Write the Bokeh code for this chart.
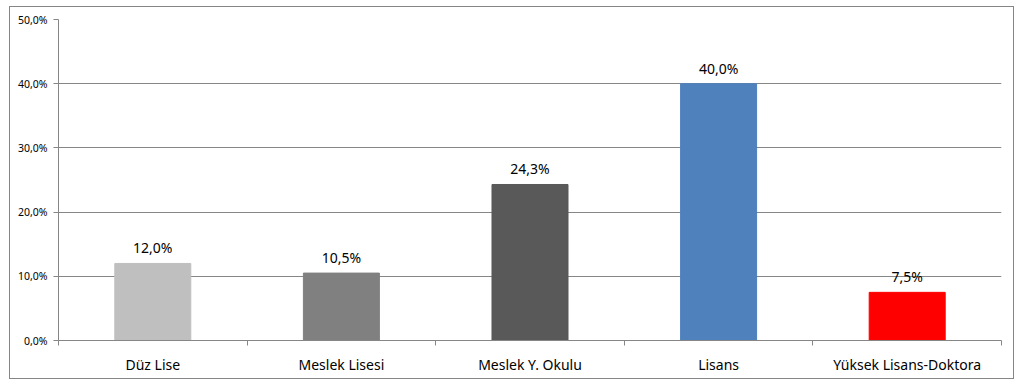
from bokeh.plotting import figure
from bokeh.models import ColumnDataSource, FixedTicker, CustomJSTickFormatter, Range1d
from bokeh.core.properties import value
from bokeh.embed import file_html
from bokeh.resources import INLINE

categories = ["Düz Lise", "Meslek Lisesi", "Meslek Y. Okulu", "Lisans", "Yüksek Lisans-Doktora"]
values = [12.0, 10.5, 24.3, 40.0, 7.5]
colors = ["#BFBFBF", "#808080", "#595959", "#4F81BD", "#FF0000"]
y_ticks = [0, 10, 20, 30, 40, 50]

FONT = "Noto Sans"
GRID = "#868686"

xs = [i + 0.5 for i in range(len(categories))]
labels = [f"{v:.1f}".replace(".", ",") + "%" for v in values]
src = ColumnDataSource(dict(x=xs, top=values, color=colors, label=labels))

p = figure(output_backend="svg", toolbar_location=None,
           x_range=Range1d(0, len(categories)), y_range=Range1d(0, 50),
           min_border_left=48, min_border_right=12, min_border_top=12, min_border_bottom=38)
p.frame_width = 943
p.frame_height = 321
p.outline_line_color = None
p.styles = {"border": "1px solid #868686", "margin-left": "9px", "margin-top": "6px"}

p.vbar(x="x", top="top", width=0.403, color="color", source=src)
p.text(x="x", y="top", text="label", source=src, text_align="center", text_baseline="bottom",
       y_offset=-6, text_font=value(FONT), text_font_size="14px", text_color="#000000")

# x axis
p.xaxis.ticker = FixedTicker(ticks=xs, minor_ticks=list(range(len(categories) + 1)))
p.xaxis.major_label_overrides = {x: c for x, c in zip(xs, categories)}
p.xaxis.major_tick_out = 0
p.xaxis.major_tick_in = 0
p.xaxis.minor_tick_out = 5
p.xaxis.minor_tick_in = 0
p.xaxis.minor_tick_line_color = GRID
p.xaxis.axis_line_color = GRID
p.xaxis.major_label_text_font = FONT
p.xaxis.major_label_text_font_size = "14px"
p.xaxis.major_label_text_color = "#000000"
p.xaxis.major_label_standoff = 9
p.xgrid.grid_line_color = None

# y axis
p.yaxis.ticker = FixedTicker(ticks=y_ticks, minor_ticks=[])
p.yaxis.formatter = CustomJSTickFormatter(code="return tick.toFixed(1).replace('.', ',') + '%';")
p.yaxis.major_tick_out = 5
p.yaxis.major_tick_in = 0
p.yaxis.major_tick_line_color = GRID
p.yaxis.axis_line_color = GRID
p.yaxis.major_label_text_font = FONT
p.yaxis.major_label_text_font_size = "10.5px"
p.yaxis.major_label_text_color = "#000000"
p.yaxis.major_label_standoff = 6
p.ygrid.grid_line_color = GRID
p.ygrid.grid_line_alpha = 1.0

open("out.html", "w").write(file_html(p, INLINE))
